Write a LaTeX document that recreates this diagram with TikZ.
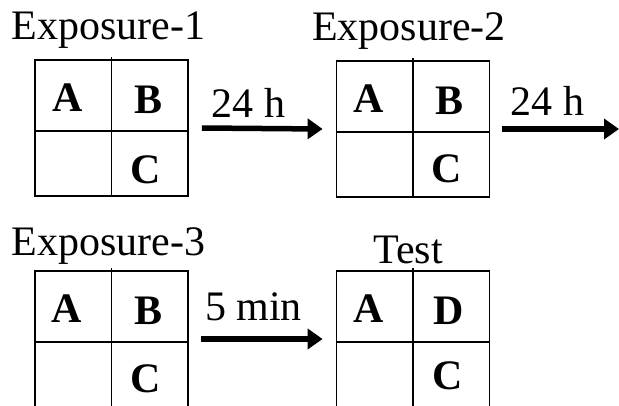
\documentclass[tikz,border=0pt]{standalone}
\usepackage{fontspec}
\setmainfont{Liberation Serif}
\usetikzlibrary{arrows.meta}
\begin{document}
\begin{tikzpicture}[x=1pt,y=-1pt,
  grid/.style={draw=black, line width=1.8pt, minimum width=153pt, minimum height=136pt, inner sep=0pt},
  rule/.style={line width=1.8pt},
  lbl/.style={font=\fontsize{42}{48}\selectfont, anchor=base, inner sep=0pt},
  cell/.style={font=\fontsize{42}{48}\selectfont\bfseries, anchor=base, inner sep=0pt},
  arr/.style={line width=5.5pt, -{Triangle[length=15pt,width=20pt]}}]
\useasboundingbox (0,0) rectangle (619,405);
\clip (0,0) rectangle (619,405);

% four 2x2 arenas
\node[grid] (b1) at (111.5,128) {};
\node[grid] (b2) at (413,129) {};
\node[grid] (b3) at (111.5,339) {};
\node[grid] (b4) at (413,339) {};
\foreach \b in {b1,b2,b3,b4}{
  \draw[rule] ([yshift=2pt]\b.north) -- (\b.south);
  \draw[rule] ([yshift=-3pt]\b.west) -- ([yshift=-3pt]\b.east);
}

% titles
\node[lbl] (t1) at (108.5,39) {Exposure-1};
\node[lbl] (t2) at (409,40) {Exposure-2};
\node[lbl] (t3) at (108.5,255) {Exposure-3};
\node[lbl] (t4) at (408,263) {Test};

% objects in the cells
\node[cell] (a1) at (68,111) {A};
\node[cell] (bb1) at (149,113) {B};
\node[cell] (c1) at (146,183) {C};
\node[cell] (a2) at (369,112) {A};
\node[cell] (bb2) at (450,114) {B};
\node[cell] (c2) at (447,182) {C};
\node[cell] (a3) at (67,322) {A};
\node[cell] (bb3) at (149,324) {B};
\node[cell] (c3) at (146,392) {C};
\node[cell] (a4) at (369,322) {A};
\node[cell] (d4) at (449,324) {D};
\node[cell] (c4) at (448,389) {C};

% delays between sessions
\coordinate (out2) at (619,129);
\draw[arr] ([xshift=13pt]b1.east) -- ([xshift=-13pt]b2.west);
\draw[arr] ([xshift=12pt]b2.east) -- (out2);
\draw[arr] ([xshift=12pt]b3.east) -- ([xshift=-13pt]b4.west);
\node[lbl] (d1) at (248.5,117) {24 h};
\node[lbl] (d2) at (547.5,115) {24 h};
\node[lbl] (d3) at (253.5,320) {5 min};
\end{tikzpicture}
\end{document}
